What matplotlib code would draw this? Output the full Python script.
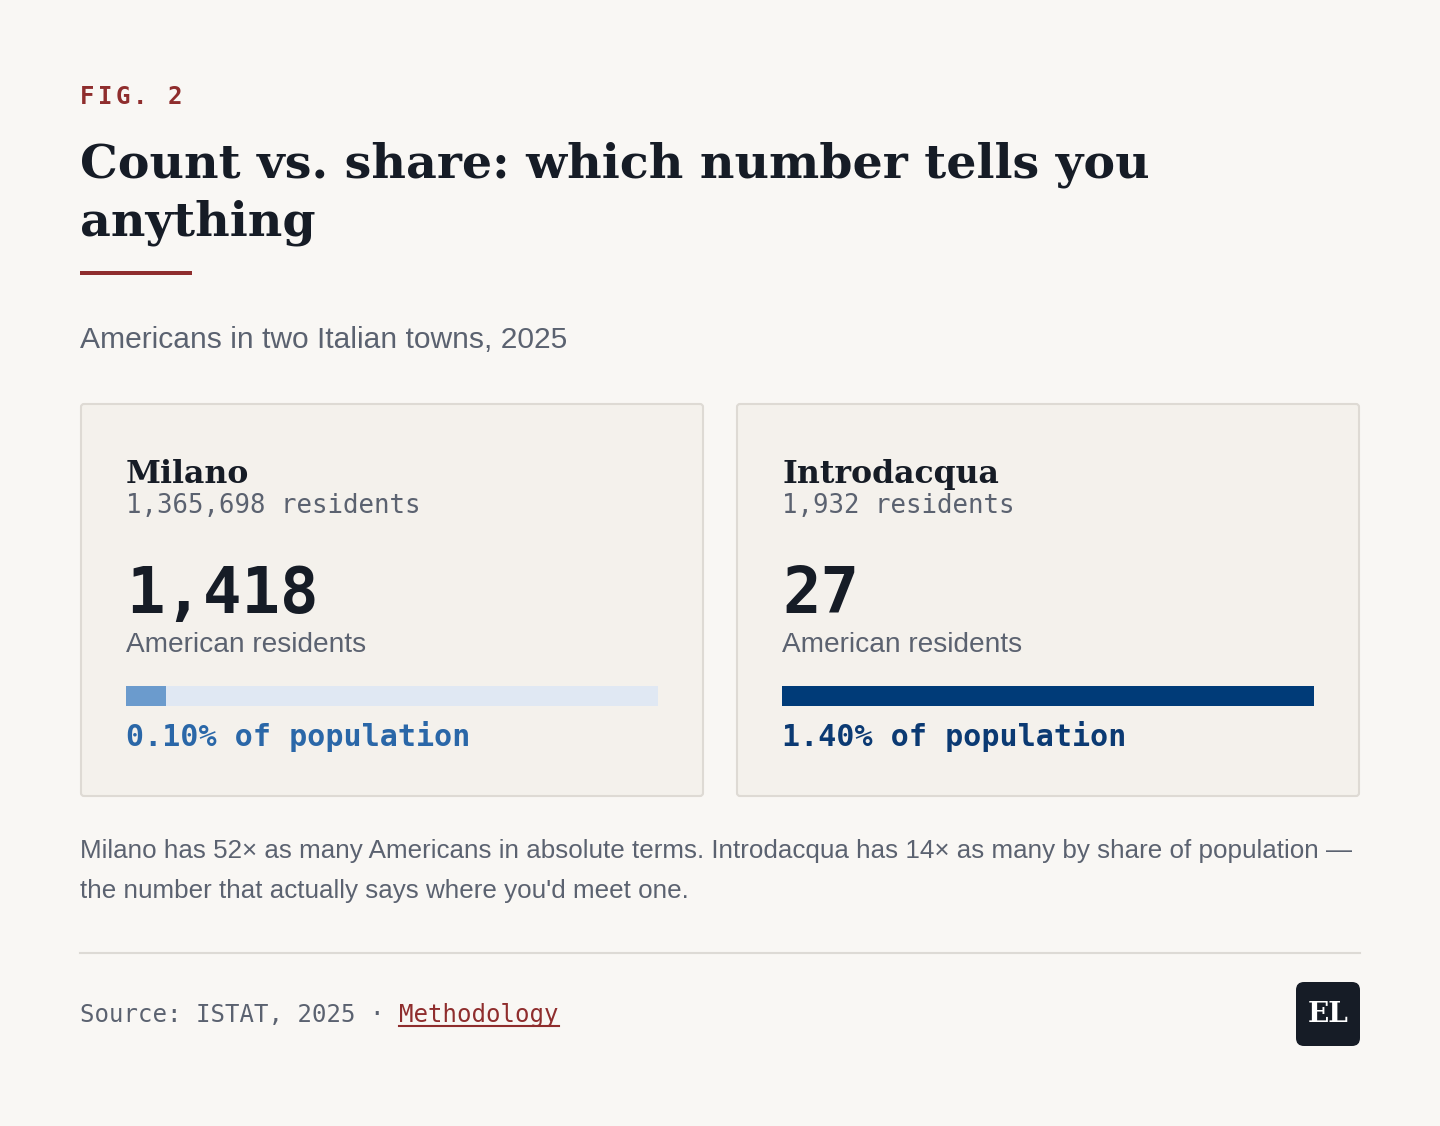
import matplotlib
matplotlib.use("Agg")
import matplotlib.pyplot as plt
from matplotlib.patches import FancyBboxPatch, Rectangle

# data
cities = ["Milano", "Introdacqua"]
residents = [1365698, 1932]
americans = [1418, 27]
fill_colors = ["#6b9bcd", "#003b78"]
share_colors = ["#2a67a8", "#0b3a73"]

shares = [a / r * 100 for a, r in zip(americans, residents)]

W, H = 1440, 1126
BG = "#f9f7f4"
INK = "#161c26"
GRAY = "#5b6270"
RED = "#8f2d2d"

def pt(px):
    return px * 72 / 100

fig = plt.figure(figsize=(W / 100, H / 100), dpi=100, facecolor=BG)
ax = fig.add_axes([0, 0, 1, 1])
ax.set_xlim(0, W)
ax.set_ylim(H, 0)
ax.axis("off")

serif = "DejaVu Serif"
mono = "DejaVu Sans Mono"
sans = "Liberation Sans"

# header
for i, ch in enumerate("FIG. 2"):
    ax.text(80 + i * 17.6, 104, ch, family=mono, weight="bold", fontsize=pt(24),
            color=RED, va="baseline")
ax.text(80, 177, "Count vs. share: which number tells you", family=serif,
        weight="bold", fontsize=pt(47.5), color=INK, va="baseline")
ax.text(80, 235, "anything", family=serif, weight="bold", fontsize=pt(47.5),
        color=INK, va="baseline")
ax.add_patch(Rectangle((80, 271), 112, 4, color=RED, lw=0))
ax.text(80, 348, "Americans in two Italian towns, 2025", family=sans,
        fontsize=pt(30), color=GRAY, va="baseline")

# cards
card_x = [80, 736]
for i, city in enumerate(cities):
    x0 = card_x[i]
    ax.add_patch(FancyBboxPatch((x0 + 1, 404), 622, 392,
                                boxstyle="round,pad=0,rounding_size=3",
                                fc="#f4f1ec", ec="#dedad4", lw=1.5))
    tx = x0 + 46
    ax.text(tx, 483, city, family=serif, weight="bold", fontsize=pt(31.5),
            color=INK, va="baseline")
    ax.text(tx, 513, f"{residents[i]:,} residents", family=mono,
            fontsize=pt(25.8), color=GRAY, va="baseline")
    ax.text(tx, 613, f"{americans[i]:,}", family=mono, weight="bold",
            fontsize=pt(64), color=INK, va="baseline")
    ax.text(tx, 652, "American residents", family=sans, fontsize=pt(28),
            color=GRAY, va="baseline")
    ax.text(tx, 746, f"{shares[i]:.2f}% of population", family=mono,
            weight="bold", fontsize=pt(30), color=share_colors[i], va="baseline")

    # bar, scaled to the largest share
    bax = fig.add_axes([tx / W, 1 - 706 / H, 532 / W, 20 / H])
    bax.set_xlim(0, max(shares))
    bax.set_ylim(-0.5, 0.5)
    bax.axis("off")
    bax.barh(0, max(shares), height=1, color="#e0e8f3", lw=0)
    bax.barh(0, shares[i], height=1, color=fill_colors[i], lw=0)

# note
ax.text(80, 858, "Milano has 52\u00d7 as many Americans in absolute terms. "
        "Introdacqua has 14\u00d7 as many by share of population \u2014",
        family=sans, fontsize=pt(26), color=GRAY, va="baseline")
ax.text(80, 898, "the number that actually says where you'd meet one.",
        family=sans, fontsize=pt(26), color=GRAY, va="baseline")

# footer
ax.plot([80, 1360], [953, 953], color="#dddad5", lw=1.5)
src = ax.text(80, 1022, "Source: ISTAT, 2025 \u00b7 ", family=mono,
              fontsize=pt(24), color=GRAY, va="baseline")
fig.canvas.draw()
bb = src.get_window_extent()
inv = ax.transData.inverted()
mx_data = inv.transform((bb.x1, 0))[0]
meth = ax.text(mx_data, 1022, "Methodology", family=mono, fontsize=pt(24),
               color=RED, va="baseline")
fig.canvas.draw()
mb = meth.get_window_extent()
x_end = inv.transform((mb.x1, 0))[0]
ax.plot([mx_data, x_end], [1026, 1026], color=RED, lw=1.5)

ax.add_patch(FancyBboxPatch((1296, 982), 64, 64,
                            boxstyle="round,pad=0,rounding_size=8",
                            fc=INK, ec="none"))
ax.text(1328, 1015, "EL", family=serif, weight="bold", fontsize=pt(28),
        color="white", ha="center", va="center")

fig.savefig("out.png", dpi=100, facecolor=BG)
